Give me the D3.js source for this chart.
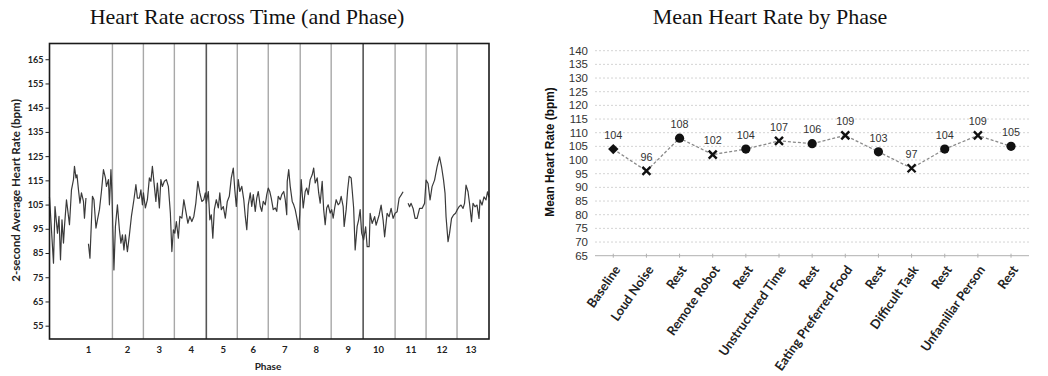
<!DOCTYPE html>
<html>
<head>
<meta charset="utf-8">
<script src="https://cdn.jsdelivr.net/npm/d3@7"></script>
<style>
  body { margin: 0; background: #fff; }
  svg { display: block; }
  .calibri { font-family: "Lato", "Open Sans", sans-serif; font-weight: 700; }
  .arial { font-family: "Liberation Sans", Arial, sans-serif; }
  .serif { font-family: "Liberation Serif", "Times New Roman", serif; }
</style>
</head>
<body>
<svg id="chart" width="1048" height="376"></svg>
<script>
// ---- Left panel: 2-second average heart rate over the session ----
// time in seconds from session start; null = dropout in the recording
const hrTime = [
  0, 8, 11, 16, 19, 22, 25, 28, 30, 34, 40, 44, 48, 50, 53, 55, 58, 61, 64, 68, 70, 73, 75,
  78, 81, 86, 89, 93, 96, 100, 104, 108, 112, 114, 118, 120, 123, 125,
  129, 132, 136, 140, 143, 146, 149, 152, 156, 160, 164, 169, 173, 176, 180, 183, 186, 188,
  192, 196, 200, 203, 206, 210, 213, 216, 220, 223, 226, 230, 234, 238, 242, 245, 248, 251,
  254, 258, 261, 265, 269, 273, 277, 281, 285, 289, 293, 297, 301, 305, 309, 312, 314,
  318, 321, 324, 327, 330, 334, 338, 341, 344, 348, 352, 356, 360, 364, 368, 371, 374,
  378, 381, 385, 389, 392, 395, 398, 402, 405, 408, 412, 415, 418, 422, 425, 428, 432, 435, 438,
  441, 444, 448, 452, 455, 458, 462, 465, 469, 472, 475, 476, 479, 482, 486, 489, 492, 496, 499, 501,
  504, 508, 512, 515, 518, 522, 526, 529, 532, 536, 539, 542, 546, 549, 552, 555, 558, 562, 565,
  568, 571, 574, 578, 581, 584, 588, 590, 594, 597, 600, 604, 606, 609, 612, 616, 619, 622, 625,
  629, 633, 636, 640, 642, 646, 651, 654, 660, 664, 668, 671, 676, 680, 684, 688, 692,
  696, 700, 704, 708, 712, 718, 721, 724, 728, 732, 736, 741, 746, 751,
  754, 758, 762, 766, 771, 776, 781, 785, 789, 792, 794, 798, 801, 805, 809, 813,
  816, 820, 824, 828, 831, 834, 838, 841, 845, 848, 852, 856, 860, 862, 866, 870, 874, 877, 880
];
const hrBpm = [
  108, 80.8, 104.2, 93.2, 100.1, 82.2, 98.7, 89.1, 96, 107, 96.7, 111.1, 115.3, 120.8, 116, 117.3, 111.1, 105.6, 109.8, 106.3, 99.4, 107.7, null,
  88.8, 82.9, 108.4, 107, 95.3, 98.7, 102.9, 110.4, 119.4, 116, 112.5, 115.3, 104.9, 119.4, 109.8,
  78, 96, 104.9, 94.6, 89.1, 92.5, 86.3, 92.5, 85.6, 92.5, 100.1, 107, 113.2, 107.7, 107.7, 111.1, 104.9, 109.8,
  103.6, 107, 116, 114.6, 120.8, 112.5, 106.3, 113.9, 103.6, 115.3, 112.5, 114.6, 115.3, 112.5, 101.5, 85.6, 94.6, 93.2,
  98, 91.1, 100.1, 99.4, 107, 102.2, 97.3, 100.1, 98, 100.1, 105.6, 114.6, 109.8, 106.3, 107, 109.8, 105.6,
  110.4, 98.7, 100.8, 91.1, 102.9, 107, 103.6, 109.8, 102.9, 104.2, 99.4, 106.3, 108.4, 116, 120.1, 111.1, 104.2,
  115.3, 110.4, 112.5, 107, 100.1, 94.6, 104.9, 109.8, 104.2, 109.1, 102.2, 107.7, 110.4, 104.2, 102.2, 106.3, 104.9, 109.1, 111.8,
  110.4, 107.7, 102.9, 103.6, 102.2, 108.4, 107, 109.1, 110.4, 107, 100.8, 114.6, 119.4, 112.5, 106.3, 104.9, 102.9, 98.7, 94.6, 100.8,
  115.3, 103.6, 110.4, 111.8, 109.1, 115.3, 117.3, 120.1, 113.9, 116, 109.8, 105.6, 114.6, 102.9, 96.7, 103.6, 104.9, 101.5, 102.9,
  99.4, 103.6, 107, 104.9, 105.6, 108.4, 104.2, 96, 102.9, 111.1, 116.7, 116, 111.1, 103.6, 86.3, 96, 98.7, 102.9, 93.2,
  90.4, 95.8, 87.6, 87.6, 101.4, 97.2, 100, 96.5, 100.7, 104.8, 98.6, 91.7, 101.4, 100, 103.4, 99.3, 101.4,
  102, 107.6, 108.9, 110.3, null, 105.5, 104.1, 105.5, 103.4, 99.3, 99.3, 103.4, 103.4, 105.5,
  115.1, 113.7, 106.9, 112.4, 115.1, 120.6, 124.7, 120.6, 115.1, 109.6, 100, 89.7, 93.1, 99.3, 100.7, 101.4,
  102.7, 104.1, 104.8, 103.4, 105.5, 113, 110.3, 105.5, 97.9, 105.5, 104.1, 104.8, 99.3, 106.9, 104.8, 108.2, 106.9, 110.3, 108
];
// phase boundaries (s) and where each phase number is printed
const phaseBoundaries = [126, 188, 250, 314, 376, 438, 502, 564, 628, 692, 754, 816];
const strongBoundaries = [314, 628];
const phaseLabelTimes = [78, 156, 220, 284, 348, 408, 471, 534, 598, 659, 724, 786, 844];
const phaseNumbers = ["1", "2", "3", "4", "5", "6", "7", "8", "9", "10", "11", "12", "13"];
const hrTicks = [55, 65, 75, 85, 95, 105, 115, 125, 135, 145, 155, 165];

// ---- Right panel: mean heart rate for each phase ----
const phaseNames = ["Baseline", "Loud Noise", "Rest", "Remote Robot", "Rest", "Unstructured Time",
  "Rest", "Eating Preferred Food", "Rest", "Difficult Task", "Rest", "Unfamiliar Person", "Rest"];
const meanHR = [104, 96, 108, 102, 104, 107, 106, 109, 103, 97, 104, 109, 105];
const markerKind = ["diamond", "cross", "circle", "cross", "circle", "cross", "circle",
  "cross", "circle", "cross", "circle", "cross", "circle"];
const meanTicks = [65, 70, 75, 80, 85, 90, 95, 100, 105, 110, 115, 120, 125, 130, 135, 140];

const svg = d3.select("#chart");

// ================= Left panel =================
const L = { left: 49.5, right: 489, top: 43.5, bottom: 339 };
const x = d3.scaleLinear().domain([0, 880]).range([L.left, L.right]);
const y = d3.scaleLinear().domain([49.5, 171.5]).range([L.bottom, L.top]);

const left = svg.append("g");

left.append("text").attr("class", "serif")
  .attr("x", 247).attr("y", 24).attr("text-anchor", "middle")
  .attr("font-size", 22).attr("fill", "#111")
  .text("Heart Rate across Time (and Phase)");

// phase separators
left.append("g").selectAll("line").data(phaseBoundaries).join("line")
  .attr("x1", d => x(d)).attr("x2", d => x(d))
  .attr("y1", L.top).attr("y2", L.bottom)
  .attr("stroke", d => strongBoundaries.includes(d) ? "#555" : "#a8a8a8")
  .attr("stroke-width", d => strongBoundaries.includes(d) ? 1.6 : 1.4);

// heart-rate trace
const hrPoints = hrTime.map((t, i) => ({ t, v: hrBpm[i] }));
const hrLine = d3.line()
  .defined(d => d.v !== null)
  .x(d => x(d.t)).y(d => y(d.v));
left.append("path").datum(hrPoints)
  .attr("d", hrLine)
  .attr("fill", "none").attr("stroke", "#3a3a3a")
  .attr("stroke-width", 1.2).attr("stroke-linejoin", "round");

// frame
left.append("rect")
  .attr("x", L.left).attr("y", L.top)
  .attr("width", L.right - L.left).attr("height", L.bottom - L.top)
  .attr("fill", "none").attr("stroke", "#1a1a1a").attr("stroke-width", 1.6);

// y axis
const yAxis = left.append("g").attr("transform", `translate(${L.left},0)`)
  .call(d3.axisLeft(y).tickValues(hrTicks).tickSize(4).tickPadding(2));
yAxis.select(".domain").remove();
yAxis.selectAll(".tick line").attr("stroke", "#222");
yAxis.selectAll(".tick text").attr("class", "calibri")
  .attr("font-size", 9).attr("fill", "#222");

// phase numbers
left.append("g").selectAll("text").data(phaseNumbers).join("text")
  .attr("class", "calibri")
  .attr("x", (d, i) => x(phaseLabelTimes[i])).attr("y", 352.5)
  .attr("text-anchor", "middle").attr("font-size", 9.5).attr("fill", "#222")
  .text(d => d);

left.append("text").attr("class", "calibri")
  .attr("x", 268).attr("y", 370).attr("text-anchor", "middle")
  .attr("font-size", 10).attr("fill", "#222").text("Phase");

left.append("text").attr("class", "calibri")
  .attr("transform", "translate(20,190.5) rotate(-90)")
  .attr("text-anchor", "middle").attr("font-size", 11.6).attr("fill", "#222")
  .text("2-second Average Heart Rate (bpm)");

// ================= Right panel =================
const xr = d3.scaleBand().domain(d3.range(phaseNames.length)).range([596.7, 1027.6]);
const cx = i => xr(i) + xr.bandwidth() / 2;
const yr = d3.scaleLinear().domain([65, 140]).range([255.7, 50.7]);

const right = svg.append("g");

right.append("text").attr("class", "serif")
  .attr("x", 770).attr("y", 24).attr("text-anchor", "middle")
  .attr("font-size", 22).attr("fill", "#111")
  .text("Mean Heart Rate by Phase");

// gridlines
right.append("g").selectAll("line").data(meanTicks.slice(1)).join("line")
  .attr("x1", 595).attr("x2", 1029)
  .attr("y1", d => yr(d)).attr("y2", d => yr(d))
  .attr("stroke", "#d4d4d4").attr("stroke-width", 1).attr("stroke-dasharray", "2,2");

// category axis
const xAxis = right.append("g").attr("transform", `translate(0,${yr(65)})`)
  .call(d3.axisBottom(xr).tickSize(4).tickFormat(() => ""));
xAxis.select(".domain").attr("d", `M595,0H1029`).attr("stroke", "#b0b0b0");
xAxis.selectAll(".tick line").attr("stroke", "#b0b0b0").attr("y1", -2).attr("y2", 2);

// y tick labels
right.append("g").selectAll("text").data(meanTicks).join("text")
  .attr("class", "arial")
  .attr("x", 588).attr("y", d => yr(d)).attr("dy", "0.35em")
  .attr("text-anchor", "end").attr("font-size", 11.5).attr("fill", "#333")
  .text(d => d);

right.append("text").attr("class", "arial")
  .attr("transform", "translate(554,152) rotate(-90)")
  .attr("text-anchor", "middle").attr("font-size", 11.9).attr("font-weight", 700)
  .attr("fill", "#111").text("Mean Heart Rate (bpm)");

// rotated category labels
right.append("g").selectAll("text").data(phaseNames).join("text")
  .attr("class", "calibri")
  .attr("transform", (d, i) => `translate(${cx(i) + 4},267) rotate(-55)`)
  .attr("text-anchor", "end").attr("dy", "0.35em")
  .attr("font-size", 12.8).attr("fill", "#222")
  .text(d => d);

// connecting dashed line
right.append("path").datum(meanHR)
  .attr("d", d3.line().x((d, i) => cx(i)).y(d => yr(d)))
  .attr("fill", "none").attr("stroke", "#8a8a8a")
  .attr("stroke-width", 1.3).attr("stroke-dasharray", "3,2");

// markers
const marks = right.append("g").selectAll("g").data(meanHR).join("g")
  .attr("transform", (d, i) => `translate(${cx(i)},${yr(d)})`);
marks.filter((d, i) => markerKind[i] === "circle").append("circle")
  .attr("r", 4.6).attr("fill", "#111");
marks.filter((d, i) => markerKind[i] === "diamond").append("path")
  .attr("d", "M0,-5.2L5.2,0L0,5.2L-5.2,0Z").attr("fill", "#111");
marks.filter((d, i) => markerKind[i] === "cross").append("path")
  .attr("d", "M-4,-4L4,4M-4,4L4,-4")
  .attr("stroke", "#111").attr("stroke-width", 2.4).attr("fill", "none");

// value labels
right.append("g").selectAll("text").data(meanHR).join("text")
  .attr("class", "arial")
  .attr("x", (d, i) => cx(i)).attr("y", d => yr(d) - 14).attr("dy", "0.35em")
  .attr("text-anchor", "middle").attr("font-size", 10.8).attr("fill", "#333")
  .text(d => d);
</script>
</body>
</html>
